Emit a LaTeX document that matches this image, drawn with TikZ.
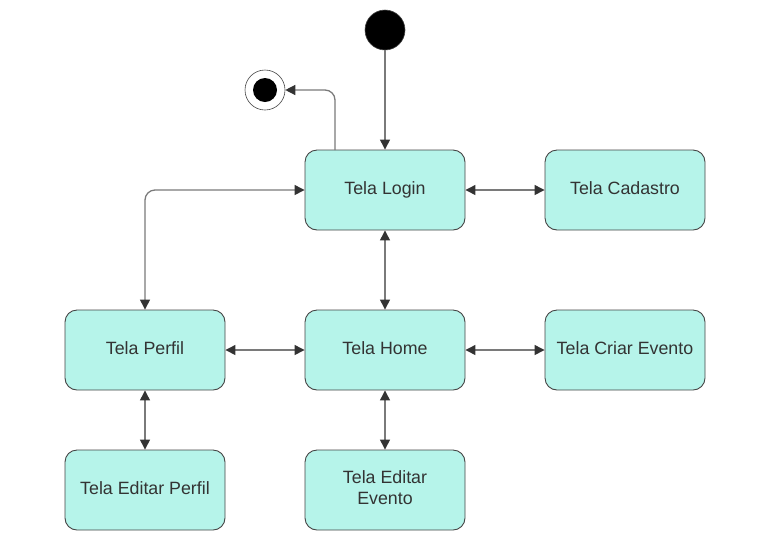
\documentclass[tikz,border=0pt]{standalone}
\usepackage{fontspec}
\setmainfont{Liberation Sans}
\usetikzlibrary{arrows.meta}
\definecolor{boxfill}{HTML}{B6F4EA}
\definecolor{boxline}{HTML}{444444}
\definecolor{conn}{HTML}{7A7A7A}
\definecolor{tip}{HTML}{333333}
\begin{document}
\begin{tikzpicture}[x=1pt,y=-1pt,
  state/.style={draw=boxline,line width=0.9pt,fill=boxfill,rounded corners=12pt,
    minimum width=160pt,minimum height=80pt,inner sep=0pt,align=center,
    text height=12.8pt,text depth=3.8pt,
    text=tip,font=\fontsize{17.8}{21}\selectfont},
  conn/.style={draw=conn,line width=1.3pt,
    arrows={-Triangle[length=10pt,width=10pt,color=tip]}},
  bconn/.style={draw=conn,line width=1.3pt,
    arrows={Triangle[length=10pt,width=10pt,color=tip]-Triangle[length=10pt,width=10pt,color=tip]}}]
\useasboundingbox (0,0) rectangle (767,542);
\node[state] (login) at (385,190) {Tela Login};
\node[state] (cad) at (625,190) {Tela Cadastro};
\node[state] (perfil) at (145,350) {Tela Perfil};
\node[state] (home) at (385,350) {Tela Home};
\node[state] (criar) at (625,350) {Tela Criar Evento};
\node[state] (edperfil) at (145,490) {Tela Editar Perfil};
\node[state,text height=33.3pt] (edevento) at (385,490) {Tela Editar\\Evento};
\node[circle,fill=black,draw=boxline,line width=0.6pt,minimum size=40pt,inner sep=0pt] (start) at (385,30) {};
\node[circle,draw=boxline,fill=white,line width=0.6pt,minimum size=40pt,inner sep=0pt] (end) at (265,90) {};
\node[circle,fill=black,minimum size=24pt,inner sep=0pt] (endin) at (265,90) {};
\coordinate (lt) at (335,150);
\draw[conn] (start) -- (login);
\draw[conn,rounded corners=10pt] (lt) |- (end);
\draw[bconn,rounded corners=10pt] (perfil.north) |- (login.west);
\draw[bconn] (login) -- (cad);
\draw[bconn] (login) -- (home);
\draw[bconn] (perfil) -- (home);
\draw[bconn] (home) -- (criar);
\draw[bconn] (perfil) -- (edperfil);
\draw[bconn] (home) -- (edevento);
\end{tikzpicture}
\end{document}
